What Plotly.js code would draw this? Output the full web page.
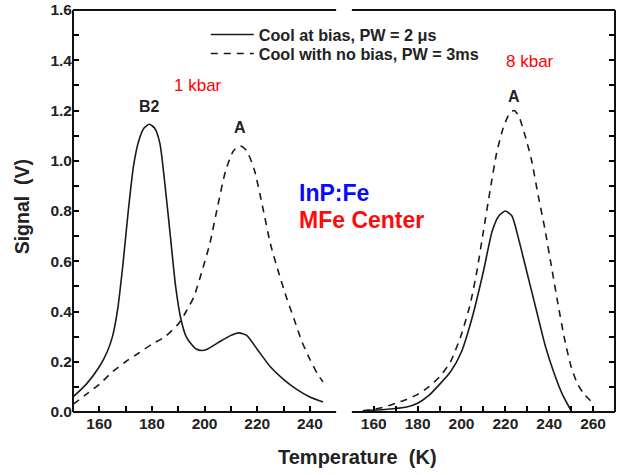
<!DOCTYPE html>
<html>
<head>
<meta charset="utf-8">
<script src="https://cdn.plot.ly/plotly-3.0.1.min.js"></script>
<style>html,body{margin:0;padding:0;background:#fff;}#chart{width:629px;height:475px;}</style>
</head>
<body>
<div id="chart"></div>
<script>
// ---- Data ----
// Left panel: 1 kbar
const leftBiasT = [150,155,160,163,165,167,169,171,173,175,177,179,181,183,185,187,189,191,193,195,197,199,201,205,210,213,216,220,225,230,235,240,245];
const leftBiasV = [0.06,0.11,0.18,0.24,0.30,0.41,0.59,0.80,0.98,1.08,1.13,1.145,1.13,1.07,0.90,0.70,0.50,0.37,0.30,0.27,0.25,0.245,0.25,0.275,0.305,0.315,0.305,0.25,0.18,0.13,0.09,0.06,0.04];
const leftNoBiasT = [150,155,160,165,170,175,180,185,190,193,196,199,202,205,208,211,213.5,216,219,222,225,228,231,234,237,240,243,245];
const leftNoBiasV = [0.03,0.07,0.11,0.16,0.20,0.235,0.27,0.30,0.35,0.40,0.46,0.56,0.67,0.82,0.96,1.04,1.06,1.04,0.96,0.82,0.67,0.56,0.46,0.37,0.28,0.21,0.15,0.12];
// Right panel: 8 kbar
const rightBiasT = [155,165,175,180,185,190,195,200,205,210,214,217,220,223,226,230,234,238,242,246,250];
const rightBiasV = [0.005,0.01,0.02,0.035,0.065,0.11,0.16,0.24,0.38,0.56,0.72,0.78,0.80,0.78,0.69,0.55,0.41,0.27,0.16,0.07,0.005];
const rightNoBiasT = [155,160,165,170,175,180,185,190,195,200,204,207,210,213,216,219,222,224,226,229,232,235,238,241,244,247,250,253,256,260];
const rightNoBiasV = [0.005,0.01,0.02,0.035,0.05,0.07,0.10,0.14,0.20,0.31,0.43,0.56,0.72,0.88,1.03,1.13,1.19,1.20,1.18,1.10,1.00,0.86,0.73,0.58,0.43,0.29,0.18,0.11,0.07,0.035];

// Tick positions and labels
const leftXTickVals  = [160,170,180,190,200,210,220,230,240];
const leftXTickText  = ['160','','180','','200','','220','','240'];
const rightXTickVals = [160,170,180,190,200,210,220,230,240,250,260];
const rightXTickText = ['160','','180','','200','','220','','240','','260'];
const yTickVals = [0,0.1,0.2,0.3,0.4,0.5,0.6,0.7,0.8,0.9,1.0,1.1,1.2,1.3,1.4,1.5,1.6];
const yTickText = ['0.0','','0.2','','0.4','','0.6','','0.8','','1.0','','1.2','','1.4','','1.6'];
const seriesNames = ["Cool at bias, PW = 2 \u03bcs", "Cool with no bias, PW = 3ms"];

const FONT = "Liberation Sans, Arial, Helvetica, sans-serif";
const bold = s => '<b>' + s + '</b>';
const solid = {color:'#1a1a1a', width:1.6, shape:'spline', smoothing:0.6};
const dashed = {color:'#1a1a1a', width:1.6, dash:'7px,6px', shape:'spline', smoothing:0.6};

const traces = [
  {x:leftBiasT, y:leftBiasV, xaxis:'x', yaxis:'y', mode:'lines', line:solid, name:bold(seriesNames[0]), showlegend:true, legend:'legend'},
  {x:leftNoBiasT, y:leftNoBiasV, xaxis:'x', yaxis:'y', mode:'lines', line:dashed, name:bold(seriesNames[1]), showlegend:true, legend:'legend2'},
  {x:rightBiasT, y:rightBiasV, xaxis:'x2', yaxis:'y2', mode:'lines', line:solid, name:seriesNames[0], showlegend:false},
  {x:rightNoBiasT, y:rightNoBiasV, xaxis:'x2', yaxis:'y2', mode:'lines', line:dashed, name:seriesNames[1], showlegend:false}
];

const tickFont = {family:FONT, size:15.5, color:'#222', weight:'bold'};
// plain tick style (no axis line, no minor, no mirror)
const tickStyle = {tickmode:'array', ticks:'inside', ticklen:6, tickwidth:2, tickcolor:'black',
                   showline:false, showgrid:false, zeroline:false, tickfont:tickFont};

// frame lines of the two panels (axis-domain relative)
const frame = (xr, yr, segs) => segs.map(s => ({type:'line', xref:xr, yref:yr, x0:s[0], y0:s[1], x1:s[2], y1:s[3],
  line:{color:'#111', width:2}, layer:'above'}));
const shapes = [].concat(
  frame('x domain', 'y domain', [[0,0,1,0],[0,1,1,1],[0,0,0,1]]),
  frame('x2 domain', 'y2 domain', [[0,0,1,0],[0,1,1,1],[1,0,1,1]])
);

const legendFont = {family:FONT, size:16.2, color:'#222'};

const layout = {
  width:629, height:475,
  margin:{l:73, r:14, t:10, b:63},
  paper_bgcolor:'#fff', plot_bgcolor:'#fff',
  font:{family:FONT, size:15.5, color:'#222'},
  xaxis:Object.assign({}, tickStyle, {domain:[0,0.4855], range:[150,250], anchor:'y',
        tickvals:leftXTickVals, ticktext:leftXTickText}),
  xaxis2:Object.assign({}, tickStyle, {domain:[0.5145,1], range:[150,270], anchor:'y2',
        tickvals:rightXTickVals, ticktext:rightXTickText}),
  // top ticks of each panel
  xaxis3:Object.assign({}, tickStyle, {overlaying:'x', side:'top', anchor:'y', range:[150,250],
        tickvals:leftXTickVals, showticklabels:false}),
  xaxis4:Object.assign({}, tickStyle, {overlaying:'x2', side:'top', anchor:'y2', range:[150,270],
        tickvals:rightXTickVals, showticklabels:false}),
  yaxis:Object.assign({}, tickStyle, {range:[0,1.6], anchor:'x', side:'left',
        tickvals:yTickVals, ticktext:yTickText}),
  yaxis2:Object.assign({}, tickStyle, {range:[0,1.6], anchor:'x2', side:'right',
        tickvals:yTickVals, showticklabels:false}),
  shapes:shapes,
  showlegend:true,
  legend:{x:0.245, y:(412-35)/402, xanchor:'left', yanchor:'middle', bgcolor:'rgba(0,0,0,0)', borderwidth:0, itemwidth:43, font:legendFont},
  legend2:{x:0.245, y:(412-54)/402, xanchor:'left', yanchor:'middle', bgcolor:'rgba(0,0,0,0)', borderwidth:0, itemwidth:43, font:legendFont},
  annotations:[
    {text:'1 kbar', x:197.5, y:1.30, xref:'x', yref:'y', showarrow:false, font:{family:FONT, size:17, color:'#ff0000'}},
    {text:'8 kbar', x:231.2, y:1.394, xref:'x2', yref:'y2', showarrow:false, font:{family:FONT, size:17, color:'#ff0000'}},
    {text:bold('B2'), x:179, y:1.215, xref:'x', yref:'y', showarrow:false, font:{family:FONT, size:16, color:'#222'}},
    {text:bold('A'), x:213.5, y:1.132, xref:'x', yref:'y', showarrow:false, font:{family:FONT, size:16, color:'#222'}},
    {text:bold('A'), x:223.9, y:1.255, xref:'x2', yref:'y2', showarrow:false, font:{family:FONT, size:16, color:'#222'}},
    {text:bold('InP:Fe'), x:0.4127, y:0.545, xref:'paper', yref:'paper', xanchor:'left', yanchor:'middle', showarrow:false, font:{family:FONT, size:23, color:'#0a0aff'}},
    {text:bold('MFe Center'), x:0.4127, y:0.478, xref:'paper', yref:'paper', xanchor:'left', yanchor:'middle', showarrow:false, font:{family:FONT, size:23, color:'#ff0a0a'}},
    {text:bold('Temperature\u00a0\u00a0(K)'), x:0.524, y:-0.112, xref:'paper', yref:'paper', xanchor:'center', yanchor:'middle', showarrow:false, font:{family:FONT, size:20, color:'#222'}},
    {text:bold('Signal\u00a0\u00a0(V)'), x:-0.0946, y:0.511, xref:'paper', yref:'paper', xanchor:'center', yanchor:'middle', textangle:-90, showarrow:false, font:{family:FONT, size:19.5, color:'#222'}}
  ]
};

Plotly.newPlot('chart', traces, layout, {displayModeBar:false});
</script>
</body>
</html>
